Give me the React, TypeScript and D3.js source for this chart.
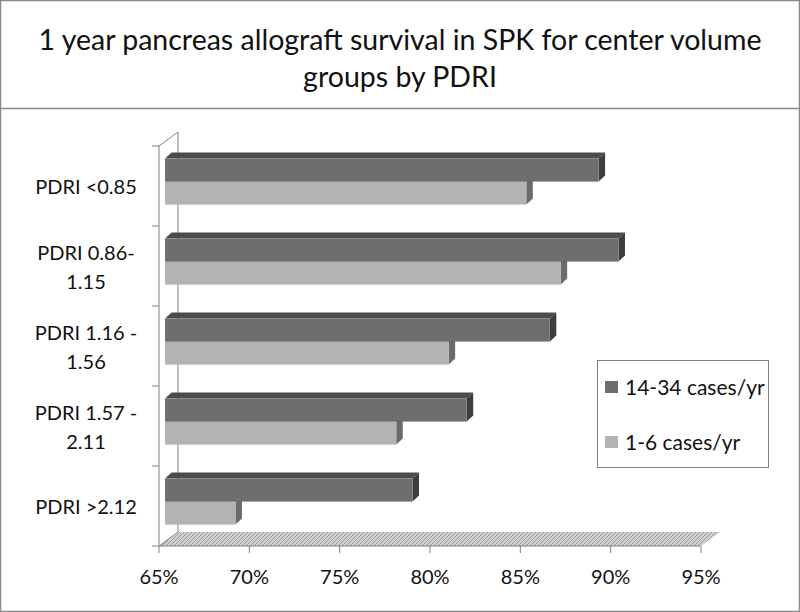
import React from "react";
import * as d3 from "d3";

const titleLines = ["1 year pancreas allograft survival in SPK for center volume", "groups by PDRI"];
const categories = ["PDRI <0.85", "PDRI 0.86-1.15", "PDRI 1.16 - 1.56", "PDRI 1.57 - 2.11", "PDRI >2.12"];
const categoryLabelLines = [["PDRI <0.85"], ["PDRI 0.86-", "1.15"], ["PDRI 1.16 -", "1.56"], ["PDRI 1.57 -", "2.11"], ["PDRI >2.12"]];
const seriesNames = ["14-34 cases/yr", "1-6 cases/yr"];
const highVolume = [89.0, 90.1, 86.3, 81.7, 78.7];
const lowVolume = [85.0, 86.9, 80.7, 77.8, 68.9];
const xTicks = [65, 70, 75, 80, 85, 90, 95];

const FONT = "Lato, 'Open Sans', sans-serif";
const colors = {
  dark: { front: "#6e6e6e", top: "#4c4c4c", side: "#3e3e3e" },
  light: { front: "#b3b3b3", top: "#8a8a8a", side: "#6a6a6a" },
};

export default function App() {
  const W = 800, H = 612;
  const x = d3.scaleLinear().domain([65, 95]).range([159, 701]);
  const frontY0 = 146, frontY1 = 546;
  const DX = 19, DY = -14; // frame depth
  const barOX = 6, barOY = -4.4; // bar plane offset
  const bdx = 6.5, bdy = -6; // bar depth
  const y = d3.scaleBand<string>().domain(categories).range([frontY0 + barOY, frontY1 + barOY]).paddingInner(0.425).paddingOuter(0.2125);
  const ySub = d3.scaleBand<string>().domain(seriesNames).range([0, y.bandwidth()]);
  const x0 = x(65) + barOX;

  const bar = (v: number, yTop: number, h: number, c: { front: string; top: string; side: string }, key: string) => {
    const x1 = x(v) + barOX;
    return (
      <g key={key}>
        <polygon points={`${x0},${yTop} ${x1},${yTop} ${x1 + bdx},${yTop + bdy} ${x0 + bdx},${yTop + bdy}`} fill={c.top} />
        <polygon points={`${x1},${yTop} ${x1 + bdx},${yTop + bdy} ${x1 + bdx},${yTop + h + bdy} ${x1},${yTop + h}`} fill={c.side} />
        <rect x={x0} y={yTop} width={x1 - x0} height={h} fill={c.front} />
      </g>
    );
  };

  return (
    <svg width={W} height={H} style={{ position: "absolute", left: 0, top: 0 }} fontFamily={FONT}>
      <defs>
        <pattern id="hatch" width="4" height="4" patternUnits="userSpaceOnUse">
          <rect width="4" height="4" fill="#d0d0d0" />
          <path d="M-1,1 l2,-2 M0,4 l4,-4 M3,5 l2,-2" stroke="#9a9a9a" strokeWidth="1" />
        </pattern>
      </defs>
      <rect x={0.5} y={0.5} width={W - 1} height={H - 1} fill="#fff" stroke="#8a8a8a" strokeWidth={1.5} />
      <line x1={0} x2={W} y1={108.5} y2={108.5} stroke="#8a8a8a" strokeWidth={1.5} />
      {titleLines.map((t, i) => (
        <text key={i} x={400} y={50 + i * 37} textAnchor="middle" fontSize={28.5} fill="#111">{t}</text>
      ))}

      {/* floor */}
      <polygon points={`${x(65)},${frontY1} ${x(95)},${frontY1} ${x(95) + DX},${frontY1 + DY} ${x(65) + DX},${frontY1 + DY}`} fill="url(#hatch)" />
      {/* back wall line */}
      <line x1={x(65) + DX} x2={x(65) + DX} y1={frontY0 + DY} y2={frontY1 + DY} stroke="#808080" />
      <line x1={x(65)} x2={x(65) + DX} y1={frontY0} y2={frontY0 + DY} stroke="#808080" />
      <line x1={x(65)} x2={x(65) + DX} y1={frontY1} y2={frontY1 + DY} stroke="#808080" />
      {/* front axes */}
      <line x1={x(65)} x2={x(65)} y1={frontY0} y2={frontY1} stroke="#808080" />
      <line x1={x(65)} x2={x(95)} y1={frontY1} y2={frontY1} stroke="#808080" />
      {d3.range(categories.length + 1).map((i) => {
        const yy = frontY0 + (i * (frontY1 - frontY0)) / categories.length;
        return <line key={"yt" + i} x1={x(65) - 7} x2={x(65)} y1={yy} y2={yy} stroke="#808080" />;
      })}
      {xTicks.map((t) => (
        <g key={"xt" + t}>
          <line x1={x(t)} x2={x(t)} y1={frontY1} y2={frontY1 + 7} stroke="#808080" />
          <text x={x(t)} y={584} textAnchor="middle" fontSize={20} fill="#111">{t}%</text>
        </g>
      ))}

      {/* bars */}
      {categories.map((cat, i) => {
        const yb = y(cat)!;
        return (
          <g key={cat}>
            {bar(lowVolume[i], yb + ySub(seriesNames[1])!, ySub.bandwidth(), colors.light, "l")}
            {bar(highVolume[i], yb + ySub(seriesNames[0])!, ySub.bandwidth(), colors.dark, "h")}
          </g>
        );
      })}

      {/* category labels */}
      {categories.map((cat, i) => {
        const lines = categoryLabelLines[i];
        const cy = frontY0 + (i + 0.5) * 80;
        const lh = 29;
        return (
          <text key={"cl" + i} textAnchor="middle" fontSize={20} fill="#111">
            {lines.map((l, j) => (
              <tspan key={j} x={86} y={cy + 8 + (j - (lines.length - 1) / 2) * lh}>{l}</tspan>
            ))}
          </text>
        );
      })}

      {/* legend */}
      <rect x={597.5} y={360.5} width={171} height={107} fill="#fff" stroke="#808080" />
      {seriesNames.map((s, i) => (
        <g key={s}>
          <rect x={605} y={381 + i * 55} width={13} height={12} fill={i === 0 ? colors.dark.front : colors.light.front} />
          <text x={625} y={395 + i * 55} fontSize={21} fill="#111">{s}</text>
        </g>
      ))}
    </svg>
  );
}
